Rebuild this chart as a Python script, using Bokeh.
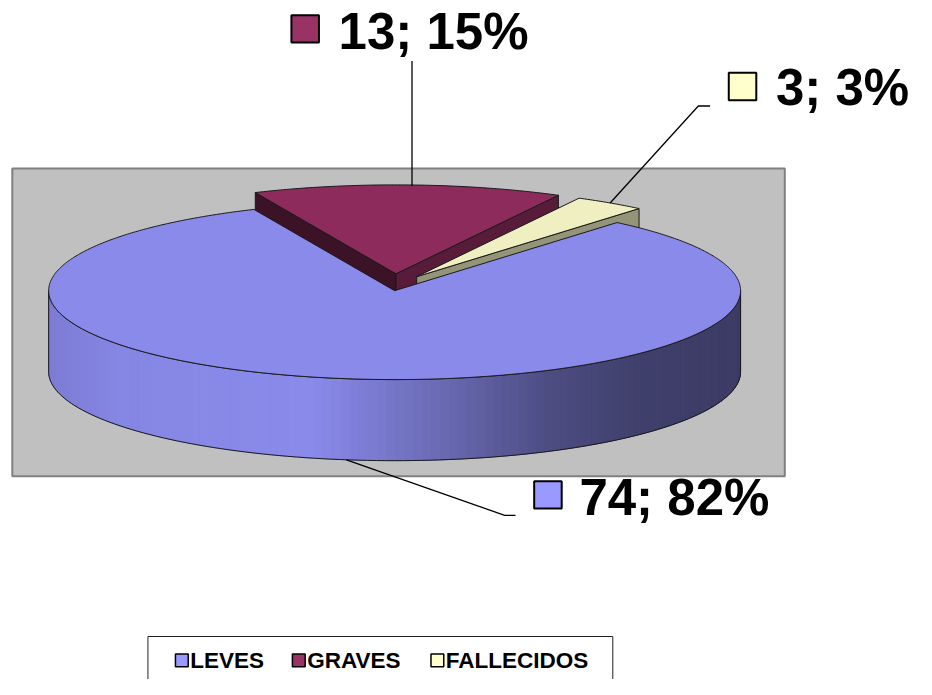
import numpy as np
from bokeh.plotting import figure
from bokeh.models import Range1d
from bokeh.core.properties import value
from bokeh.embed import file_html
from bokeh.resources import INLINE

# ---------------- data ----------------
categories = ["LEVES", "GRAVES", "FALLECIDOS"]
counts = [74, 13, 3]
pct_labels = ["82%", "15%", "3%"]

# ---------------- styles ----------------
legend_colors = ["#9999FF", "#993366", "#FFFFCC"]
top_colors = [(138, 138, 235), (142, 43, 93), (239, 239, 194)]
explode = [0.0, 0.19, 0.19]
FONT = value("Liberation Sans")

# ---------------- layout (reference pixels) ----------------
CX, CY = 401.0, 297.0
RX, RY = 352.0, 91.0
DEPTH = 83.0
START = 40.0          # first slice angle, degrees clockwise from 12 o'clock
XPERSP = 0.6          # horizontal shrink of explosion offsets

box_pos = [(543, 492), (296, 15), (741, 74)]
box_size = 28
text_pos = [(589, 527), (344, 50), (789, 107)]
BIG_SHIFT = 18        # baseline correction for the renderer
leader_mid = [[(513, 527), (524, 527)], [], [(710, 108), (722, 108)]]
graves_leader_top = 62

leg_box_x = [178, 297, 438]
leg_text_x = [193, 312, 453]
leg_base = 683
LEG_SHIFT = 7
leg_sq = 13


def rgb_hex(c):
    return "#%02x%02x%02x" % tuple(int(max(0, min(255, round(v)))) for v in c)


def shade(c, f):
    return rgb_hex([v * f for v in c])


p = figure(width=916, height=679, x_range=Range1d(0, 932), y_range=Range1d(695, 0),
           toolbar_location=None, output_backend="svg", min_border=0)
p.axis.visible = False
p.grid.visible = False
p.outline_line_color = None
p.background_fill_color = "white"
p.border_fill_color = "white"

# plot area
p.quad(left=12, right=798, top=172, bottom=487, fill_color="#C0C0C0",
       line_color="#808080", line_width=2)

# slice geometry
total = float(sum(counts))
spans = [c / total * 360.0 for c in counts]
starts = [START + sum(spans[:i]) for i in range(len(counts))]
ends = [s + w for s, w in zip(starts, spans)]
mids = [(s + e) / 2 for s, e in zip(starts, ends)]
apex = []
for k, m in zip(explode, mids):
    r = np.radians(m)
    apex.append((CX + RX * k * XPERSP * np.sin(r), CY - RY * k * np.cos(r)))


def rim(ax, ay, a):
    r = np.radians(a)
    return ax + RX * np.sin(r), ay - RY * np.cos(r)


EDGE = "#1a1a1a"
order = sorted(range(len(counts)), key=lambda i: -np.cos(np.radians(mids[i])))

for i in order:
    ax, ay = apex[i]
    a1, a2 = starts[i], ends[i]
    col = top_colors[i]
    # start face
    if -np.sin(np.radians(a1)) > 0:
        rx_, ry_ = rim(ax, ay, a1)
        p.patch([ax, rx_, rx_, ax], [ay, ry_, ry_ + DEPTH, ay + DEPTH],
                fill_color=shade(col, 0.42), line_color=EDGE, line_width=1)
    # end face
    if np.sin(np.radians(a2)) > 0:
        rx_, ry_ = rim(ax, ay, a2)
        p.patch([ax, rx_, rx_, ax], [ay, ry_, ry_ + DEPTH, ay + DEPTH],
                fill_color=shade(col, 0.62), line_color=EDGE, line_width=1)
    # outer front wall
    lo, hi = max(a1, 90.0), min(a2, 270.0)
    if hi > lo:
        n = 120
        angs = np.linspace(lo, hi, n + 1)
        xs_all, ys_all, cols = [], [], []
        t_stops = [0, 0.1, 0.38, 0.57, 0.72, 0.85, 1.0]
        m_stops = [0.9, 0.97, 1.0, 0.76, 0.56, 0.46, 0.43]
        for b1, b2 in zip(angs[:-1], angs[1:]):
            x1, y1 = rim(ax, ay, b1)
            x2, y2 = rim(ax, ay, b2)
            xs_all.append([x1, x2, x2, x1])
            ys_all.append([y1, y2, y2 + DEPTH, y1 + DEPTH])
            t = ((x1 + x2) / 2 - (ax - RX)) / (2 * RX)
            cols.append(shade(col, np.interp(t, t_stops, m_stops)))
        p.patches(xs_all, ys_all, fill_color=cols, line_color=cols, line_width=1)
        tx = [rim(ax, ay, b)[0] for b in angs]
        ty = [rim(ax, ay, b)[1] for b in angs]
        p.patch(tx + tx[::-1], ty + [y + DEPTH for y in ty[::-1]],
                fill_color=None, line_color=EDGE, line_width=1)
    # top
    angs = np.linspace(a1, a2, max(8, int((a2 - a1) * 2)))
    px = [ax] + [rim(ax, ay, b)[0] for b in angs]
    py = [ay] + [rim(ax, ay, b)[1] for b in angs]
    p.patch(px, py, fill_color=rgb_hex(col), line_color=EDGE, line_width=1)

# leader lines
for i in range(len(counts)):
    ax, ay = apex[i]
    m = mids[i]
    if np.cos(np.radians(m)) < 0:
        sx, sy = rim(ax, ay + DEPTH, m)
    else:
        sx, sy = rim(ax, ay, m)
    if leader_mid[i]:
        xs = [sx] + [q[0] for q in leader_mid[i]]
        ys = [sy] + [q[1] for q in leader_mid[i]]
    else:
        xs = [sx + 4, sx + 4]
        ys = [sy + 1, graves_leader_top]
    p.line(xs, ys, line_color="black", line_width=1.3)

# data labels
for i in range(len(counts)):
    bx, by = box_pos[i]
    p.quad(left=bx, right=bx + box_size, top=by, bottom=by + box_size,
           fill_color=legend_colors[i], line_color="black", line_width=2)
labels = ["%d; %s" % (c, s) for c, s in zip(counts, pct_labels)]
p.text(x=[t[0] for t in text_pos], y=[t[1] - BIG_SHIFT for t in text_pos], text=labels,
       text_font=FONT, text_font_size="51px", text_font_style="bold",
       text_baseline="alphabetic", text_align="left", text_color="black")

# legend
p.quad(left=150, right=623, top=651, bottom=710, fill_color=None,
       line_color="#222222", line_width=1)
for i in range(len(categories)):
    p.quad(left=leg_box_x[i], right=leg_box_x[i] + leg_sq, top=leg_base - 14,
           bottom=leg_base - 14 + leg_sq, fill_color=legend_colors[i],
           line_color="black", line_width=1.5)
p.text(x=leg_text_x, y=[leg_base - LEG_SHIFT] * len(categories), text=categories,
       text_font=FONT, text_font_size="22.5px", text_font_style="bold",
       text_baseline="alphabetic", text_align="left", text_color="black")

open("out.html", "w").write(file_html(p, INLINE))
